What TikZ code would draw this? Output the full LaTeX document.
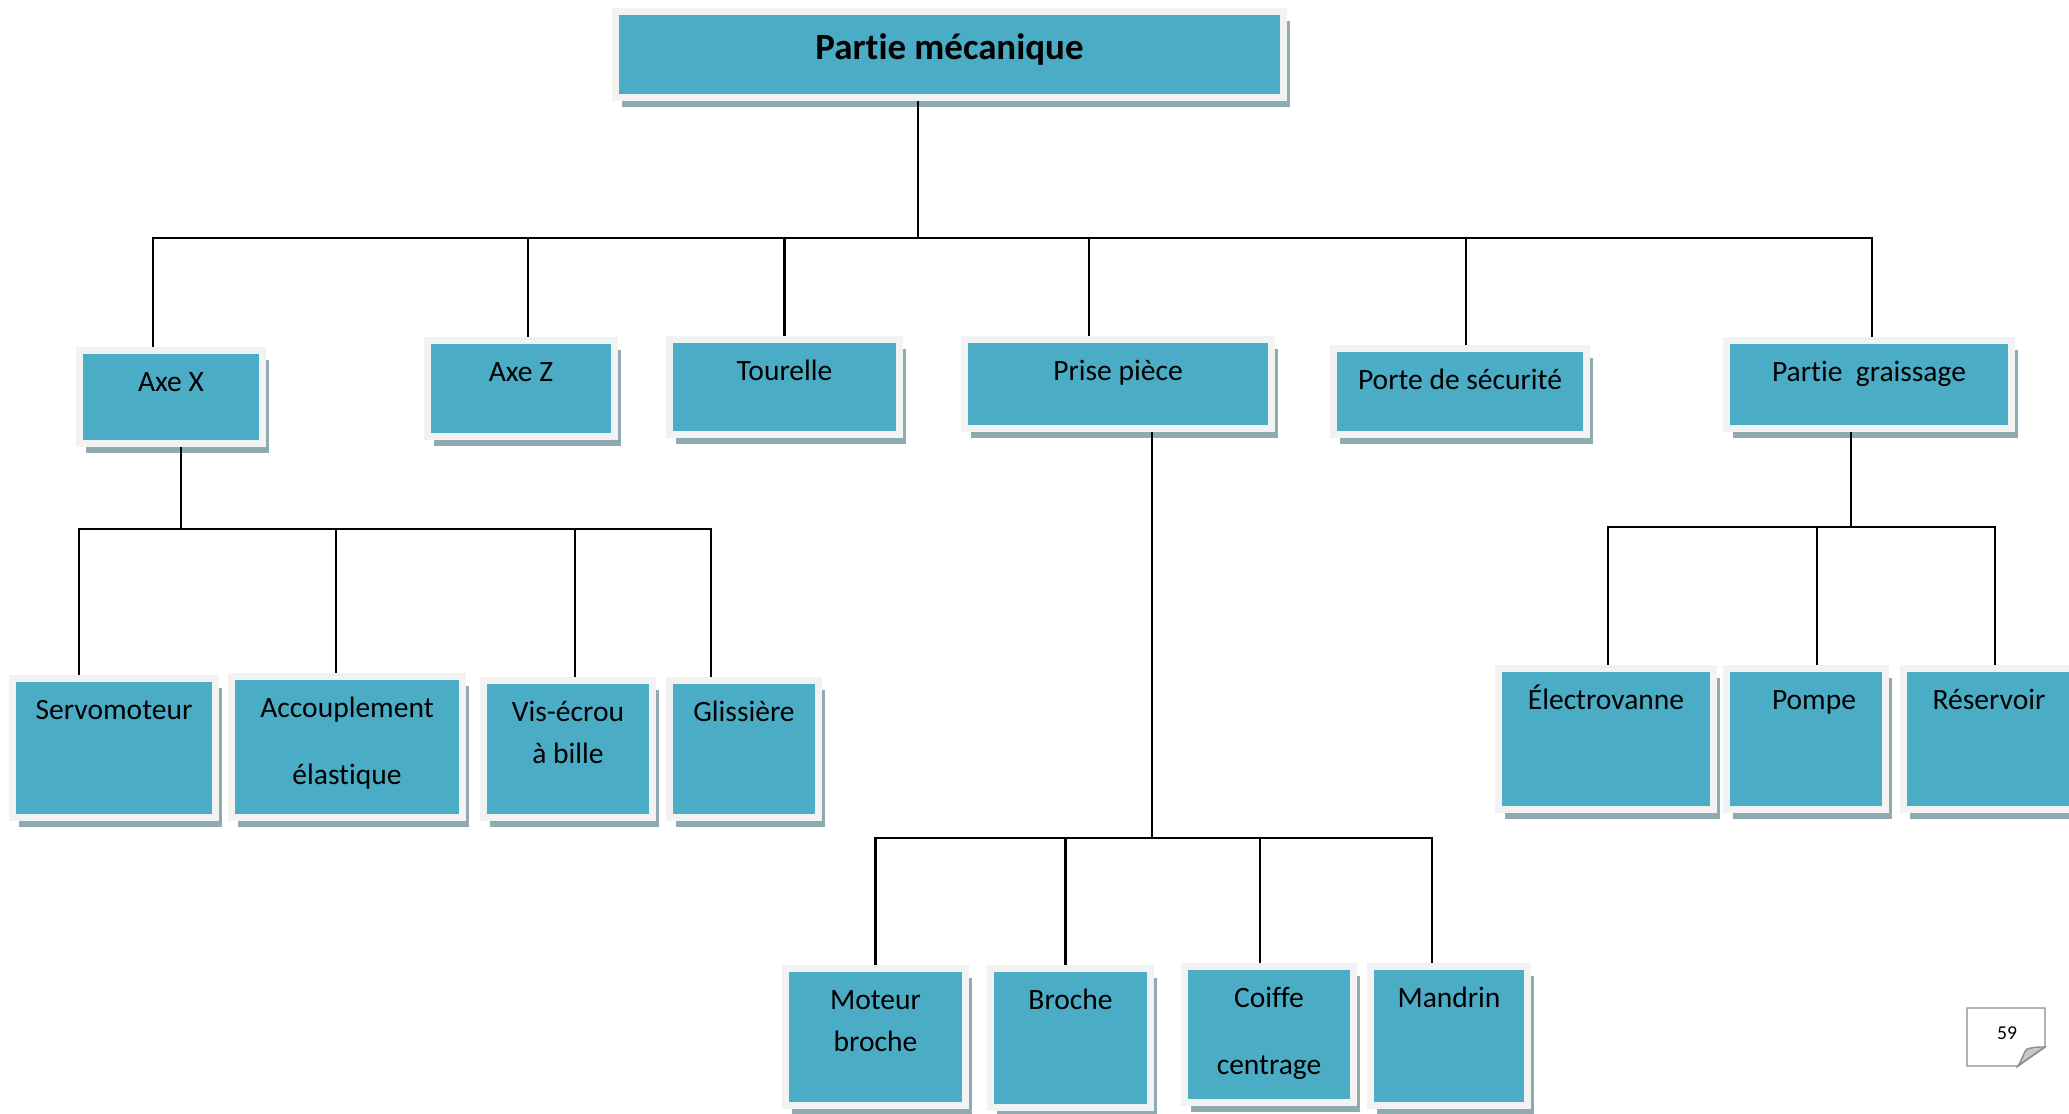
\documentclass[tikz,border=0pt]{standalone}
\usepackage{fontspec}
\setmainfont[Ligatures=NoCommon]{Carlito}
\usetikzlibrary{shadows}

\definecolor{boxteal}{RGB}{75,172,198}
\definecolor{boxframe}{RGB}{242,242,242}
\definecolor{boxshade}{RGB}{143,170,177}
\definecolor{pagegray}{RGB}{140,140,140}
\definecolor{curlgray}{RGB}{200,200,200}

\begin{document}
\begin{tikzpicture}[
  part/.style={draw=boxframe, line width=0.07cm, fill=boxteal, inner sep=0pt,
               drop shadow={shadow xshift=0.065cm, shadow yshift=-0.095cm,
                            fill=boxshade, opacity=1}},
  lbl/.style={font=\fontsize{8.4pt}{11.95pt}\selectfont, align=center,
              inner sep=0pt, anchor=base},
  headlbl/.style={font=\fontsize{10.5pt}{12.6pt}\selectfont\bfseries,
                  inner sep=0pt, anchor=base},
  link/.style={line width=0.6pt, black},
]
\useasboundingbox (0,0) rectangle (20.69,-11.13);

% Head
\node[part, minimum width=6.68cm, minimum height=0.86cm] (top) at (9.495,-0.545) {};
\node[headlbl] (toplbl) at ([yshift=-0.51cm]top.north) {Partie mécanique};

% Level 1
\node[part, minimum width=1.83cm, minimum height=0.93cm] (axex) at (1.71,-3.97) {};
\node[part, minimum width=1.87cm, minimum height=0.96cm] (axez) at (5.21,-3.885) {};
\node[part, minimum width=2.30cm, minimum height=0.95cm] (tourelle) at (7.845,-3.87) {};
\node[part, minimum width=3.07cm, minimum height=0.89cm] (prise) at (11.18,-3.84) {};
\node[part, minimum width=2.53cm, minimum height=0.86cm] (porte) at (14.60,-3.915) {};
\node[part, minimum width=2.85cm, minimum height=0.88cm] (graissage) at (18.69,-3.845) {};

\node[lbl] (axexlbl) at ([yshift=-0.44cm]axex.north) {Axe X};
\node[lbl] (axezlbl) at ([yshift=-0.44cm]axez.north) {Axe Z};
\node[lbl] (tourellelbl) at ([yshift=-0.44cm]tourelle.north) {Tourelle};
\node[lbl] (priselbl) at ([yshift=-0.44cm]prise.north) {Prise pièce};
\node[lbl] (portelbl) at ([yshift=-0.44cm]porte.north) {Porte de sécurité};
\node[lbl] (graissagelbl) at ([yshift=-0.44cm]graissage.north) {Partie\ \ graissage};

% Level 2: Axe X (base of a two-line label is its last line)
\node[part, minimum width=2.03cm, minimum height=1.39cm] (servo) at (1.14,-7.48) {};
\node[part, minimum width=2.31cm, minimum height=1.41cm] (accoup) at (3.47,-7.47) {};
\node[part, minimum width=1.69cm, minimum height=1.37cm] (vis) at (5.68,-7.49) {};
\node[part, minimum width=1.49cm, minimum height=1.37cm] (gliss) at (7.44,-7.49) {};

\node[lbl] (servolbl) at ([yshift=-0.44cm]servo.north) {Servomoteur};
\node[lbl] (accouplbl) at ([yshift=-1.11cm]accoup.north) {Accouplement\\[0.25cm]élastique};
\node[lbl] (vislbl) at ([yshift=-0.86cm]vis.north) {Vis-écrou\\à bille};
\node[lbl] (glisslbl) at ([yshift=-0.44cm]gliss.north) {Glissière};

% Level 2: Partie graissage
\node[part, minimum width=2.15cm, minimum height=1.41cm] (electro) at (16.06,-7.39) {};
\node[part, minimum width=1.59cm, minimum height=1.41cm] (pompe) at (18.06,-7.39) {};
\node[part, minimum width=1.71cm, minimum height=1.41cm] (reserv) at (19.89,-7.39) {};

\node[lbl] (electrolbl) at ([yshift=-0.44cm]electro.north) {Électrovanne};
\node[lbl] (pompelbl) at ([xshift=0.08cm,yshift=-0.44cm]pompe.north) {Pompe};
\node[lbl] (reservlbl) at ([yshift=-0.44cm]reserv.north) {Réservoir};

% Level 3: Prise piece
\node[part, minimum width=1.80cm, minimum height=1.37cm] (moteur) at (8.755,-10.37) {};
\node[part, minimum width=1.60cm, minimum height=1.39cm] (broche) at (10.705,-10.38) {};
\node[part, minimum width=1.69cm, minimum height=1.36cm] (coiffe) at (12.69,-10.345) {};
\node[part, minimum width=1.57cm, minimum height=1.39cm] (mandrin) at (14.49,-10.36) {};

\node[lbl] (moteurlbl) at ([yshift=-0.86cm]moteur.north) {Moteur\\broche};
\node[lbl] (brochelbl) at ([yshift=-0.44cm]broche.north) {Broche};
\node[lbl] (coiffelbl) at ([yshift=-1.11cm]coiffe.north) {Coiffe\\[0.25cm]centrage};
\node[lbl] (mandrinlbl) at ([yshift=-0.44cm]mandrin.north) {Mandrin};

% Links
\coordinate (hubtop) at (9.18,-2.38);
\draw[link] (hubtop |- top.south) -- (hubtop);
\foreach \n/\dx in {axex/-0.18, axez/0.07, tourelle/0, prise/-0.29, porte/0.06, graissage/0.03}
  \draw[link] (hubtop) -| ([xshift=\dx cm]\n.north);

\coordinate (hubx) at (1.81,-5.29);
\draw[link] (hubx |- axex.south) -- (hubx);
\foreach \n/\dx in {servo/-0.35, accoup/-0.11, vis/0.07, gliss/-0.33}
  \draw[link] (hubx) -| ([xshift=\dx cm]\n.north);

\coordinate (hubprise) at (11.52,-8.38);
\draw[link] (hubprise |- prise.south) -- (hubprise);
\foreach \n/\dx in {moteur/0, broche/-0.05, coiffe/-0.09, mandrin/-0.17}
  \draw[link] (hubprise) -| ([xshift=\dx cm]\n.north);

\coordinate (hubgr) at (18.51,-5.27);
\draw[link] (hubgr |- graissage.south) -- (hubgr);
\foreach \n/\dx in {electro/0.02, pompe/0.11, reserv/0.06}
  \draw[link] (hubgr) -| ([xshift=\dx cm]\n.north);

% Page number
\draw[pagegray, line width=0.4pt, fill=white]
  (19.67,-10.08) -- (20.45,-10.08) -- (20.45,-10.47) -- (20.18,-10.66) -- (19.67,-10.66) -- cycle;
\filldraw[fill=curlgray, draw=pagegray, line width=0.4pt]
  (20.18,-10.66) .. controls (20.23,-10.58) and (20.24,-10.51) .. (20.27,-10.49)
  .. controls (20.35,-10.47) .. (20.45,-10.47)
  .. controls (20.33,-10.55) .. (20.18,-10.66) -- cycle;
\node[font=\fontsize{5.6pt}{6pt}\selectfont, inner sep=0pt] (pagenum) at (20.07,-10.33) {59};

\end{tikzpicture}
\end{document}
